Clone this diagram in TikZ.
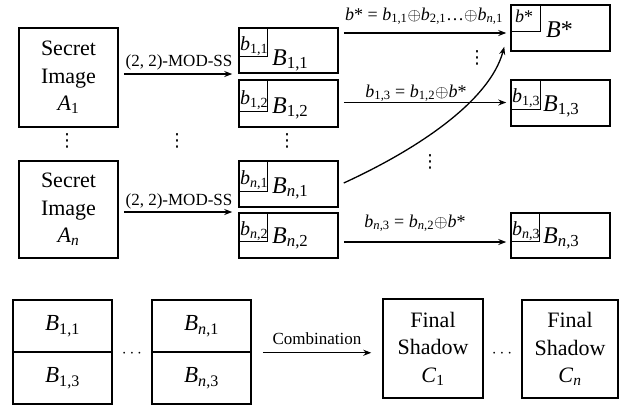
\documentclass[tikz,border=0pt]{standalone}
\usepackage{fontspec}
\setmainfont{Liberation Serif}
\newfontfamily\dejavu{DejaVu Sans}
\usetikzlibrary{arrows.meta,calc}
\newcommand{\Bs}[1]{\textit{B}\textsubscript{#1}}
\newcommand{\bs}[1]{\textit{b}\textsubscript{#1}}
\newcommand{\nI}{\textit{n}}
\newcommand{\vdts}{{\dejavu ⋮}}
\tikzset{
 bigbox/.style={draw, line width=1.5pt, inner sep=0pt},
 smallbox/.style={draw, line width=0.9pt, inner sep=0pt, anchor=north west},
 arr/.style={-{Stealth[length=8pt,width=6pt]}, line width=1.3pt},
 bigB/.style={font=\fontsize{24}{28}\selectfont, inner sep=0pt, anchor=base west},
 smallb/.style={font=\fontsize{20}{22}\selectfont, inner sep=0pt, anchor=base west},
 lbl/.style={font=\fontsize{17}{20}\selectfont, inner sep=0pt, anchor=base},
 txt/.style={font=\fontsize{22}{27.5}\selectfont, align=center},
 dts/.style={font=\fontsize{18}{20}\selectfont, inner sep=0pt},
}
\begin{document}
\begin{tikzpicture}[x=1pt,y=-1pt]
\useasboundingbox (0,0) rectangle (620,408);

% secret images
\node[bigbox,txt,minimum width=99pt,minimum height=99pt] (A1) at (68.5,77.5) {Secret\\Image\\\textit{A}\textsubscript{1}};
\node[bigbox,txt,minimum width=99pt,minimum height=97pt] (An) at (68.5,209.5) {Secret\\Image\\\textit{A}\textsubscript{\nI}};

% first shadows
\node[bigbox,minimum width=99pt,minimum height=45pt] (B11) at (288.5,50.5) {};
\node[smallbox,minimum width=29pt,minimum height=29pt] (b11) at (B11.north west) {};
\node[bigB] (B11l) at (272,65) {\Bs{1,1}};
\node[smallb] (b11l) at (240,50) {\bs{1,1}};

\node[bigbox,minimum width=99pt,minimum height=47pt] (B12) at (288.5,103.5) {};
\node[smallbox,minimum width=29pt,minimum height=32pt] (b12) at (B12.north west) {};
\node[bigB] (B12l) at (272,113) {\Bs{1,2}};
\node[smallb] (b12l) at (240,104) {\bs{1,2}};

\node[bigbox,minimum width=99pt,minimum height=46pt] (Bn1) at (288.5,184) {};
\node[smallbox,minimum width=29pt,minimum height=31pt] (bn1) at (Bn1.north west) {};
\node[bigB] (Bn1l) at (272,193) {\Bs{\nI,1}};
\node[smallb] (bn1l) at (240,184) {\bs{\nI,1}};

\node[bigbox,minimum width=99pt,minimum height=45pt] (Bn2) at (288.5,235.5) {};
\node[smallbox,minimum width=29pt,minimum height=29pt] (bn2) at (Bn2.north west) {};
\node[bigB] (Bn2l) at (272,243) {\Bs{\nI,2}};
\node[smallb] (bn2l) at (240,235) {\bs{\nI,2}};

% right column
\node[bigbox,minimum width=99pt,minimum height=46pt] (Bs) at (560.5,28) {};
\node[smallbox,minimum width=30pt,minimum height=27pt] (bs) at (Bs.north west) {};
\node[bigB] (Bsl) at (546,37) {\textit{B}*};
\node[smallb,font=\fontsize{18}{20}\selectfont] (bsl) at (515,22) {\textit{b}*};

\node[bigbox,minimum width=99pt,minimum height=46pt] (B13) at (560.5,103) {};
\node[smallbox,minimum width=30pt,minimum height=30pt] (b13) at (B13.north west) {};
\node[bigB] (B13l) at (543,111) {\Bs{1,3}};
\node[smallb] (b13l) at (512,102) {\bs{1,3}};

\node[bigbox,minimum width=99pt,minimum height=45pt] (Bn3) at (560.5,235.5) {};
\node[smallbox,minimum width=29pt,minimum height=29pt] (bn3) at (Bn3.north west) {};
\node[bigB] (Bn3l) at (543,243) {\Bs{\nI,3}};
\node[smallb] (bn3l) at (512,235) {\bs{\nI,3}};

% arrows
\draw[arr] ($(A1.east)+(5,-3.5)$) -- ($(A1.east -| B11.west)+(-6,-3.5)$);
\node[lbl] (m1) at (179,66) {(2, 2)-MOD-SS};
\draw[arr] ($(An.east)+(5,2.5)$) -- ($(An.east -| Bn1.west)+(-6,2.5)$);
\node[lbl] (m2) at (179,205) {(2, 2)-MOD-SS};

\draw[arr] ($(B11.east |- Bs.center)+(5,5)$) -- ($(Bs.west)+(-4,5)$);
\node[lbl,font=\fontsize{18}{20}\selectfont] (e1) at (424,20) {\textit{b}* = \bs{1,1}$\oplus$\bs{2,1}\ldots$\oplus$\bs{\nI,1}};
\draw[arr] ($(B12.east)+(5,-1)$) -- ($(B12.east -| B13.west)+(-4,-1)$);
\node[lbl,font=\fontsize{18}{20}\selectfont] (e2) at (416,97) {\bs{1,3} = \bs{1,2}$\oplus$\textit{b}*};
\draw[arr] ($(Bn2.east)+(5,6.5)$) -- ($(Bn3.west)+(-4,6.5)$);
\node[lbl,font=\fontsize{18}{20}\selectfont] (e3) at (415,227) {\bs{\nI,3} = \bs{\nI,2}$\oplus$\textit{b}*};

\draw[arr] ($(Bn1.east)+(5,-1)$) .. controls (420,148) and (490,100) .. ($(Bs.south west)+(-6,-5)$);

% vertical dots
\node[dts] (v1) at (67,141) {\vdts};
\node[dts] (v2) at (177,141) {\vdts};
\node[dts] (v3) at (287,141) {\vdts};
\node[dts] (v4) at (477,58) {\vdts};
\node[dts] (v5) at (430,162) {\vdts};

% bottom row
\node[bigbox,minimum width=99pt,minimum height=52pt,font=\fontsize{23}{27}\selectfont] (P11) at (62.5,326) {\Bs{1,1}};
\node[bigbox,minimum width=99pt,minimum height=52pt,font=\fontsize{23}{27}\selectfont] (P13) at (62.5,378) {\Bs{1,3}};
\node[bigbox,minimum width=99pt,minimum height=52pt,font=\fontsize{23}{27}\selectfont] (Pn1) at (201.5,326) {\Bs{\nI,1}};
\node[bigbox,minimum width=99pt,minimum height=52pt,font=\fontsize{23}{27}\selectfont] (Pn3) at (201.5,378) {\Bs{\nI,3}};
\node[dts,anchor=base] (h1) at (132,357) {$\cdots$};

\node[bigbox,txt,minimum width=100pt,minimum height=99pt] (C1) at (433,348.5) {Final\\Shadow\\\textit{C}\textsubscript{1}};
\node[bigbox,txt,minimum width=96pt,minimum height=98pt] (Cn) at (570,349) {Final\\Shadow\\\textit{C}\textsubscript{\nI}};
\node[dts,anchor=base] (h2) at (502,357) {$\cdots$};

\draw[arr] ($(Pn1.south east)+(11,0)$) -- ($(C1.west |- Pn1.south)+(-11,0)$);
\node[lbl] (comb) at (317,344) {Combination};
\end{tikzpicture}
\end{document}
